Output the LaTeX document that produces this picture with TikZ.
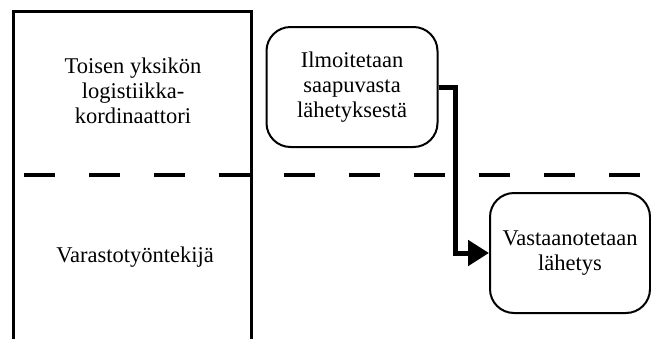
\documentclass[tikz,border=0pt]{standalone}
\usepackage{fontspec}
\setmainfont{Liberation Serif}
\usetikzlibrary{arrows.meta}
\begin{document}
\begin{tikzpicture}[x=1pt,y=-1pt,
  lanetext/.style={align=center,font=\fontsize{22.5}{25}\selectfont,inner sep=0pt},
  task/.style={draw,line width=2pt,rounded corners=24pt,align=center,
    font=\fontsize{22.5}{25}\selectfont,inner sep=0pt},
  flow/.style={line width=5pt,-{Triangle[length=21pt,width=25pt]}},
  lanesep/.style={line width=4pt,dash pattern=on 31pt off 34pt}]
\useasboundingbox (0,0) rectangle (651,338);
% role lane frame
\draw[line width=3pt] (13.5,345) -- (13.5,11.5) -- (251,11.5) -- (251,345);
% lane divider
\draw[lanesep] (24,174.5) -- (660,174.5);
% lane titles
\node[lanetext] (roleA) at (133,91) {Toisen yksikön\\logistiikka-\\kordinaattori};
\node[lanetext] (roleB) at (135,257) {Varastotyöntekijä};
% tasks
\node[task,minimum width=171pt,minimum height=120pt] (notify) at (352,87)
  {Ilmoitetaan\\saapuvasta\\lähetyksestä};
\node[task,minimum width=160pt,minimum height=120pt] (receive) at (570,253)
  {Vastaanotetaan\\lähetys};
% flow between tasks
\draw[flow] (notify.east) -- ++(17,0) |- (receive.west);
\end{tikzpicture}
\end{document}
